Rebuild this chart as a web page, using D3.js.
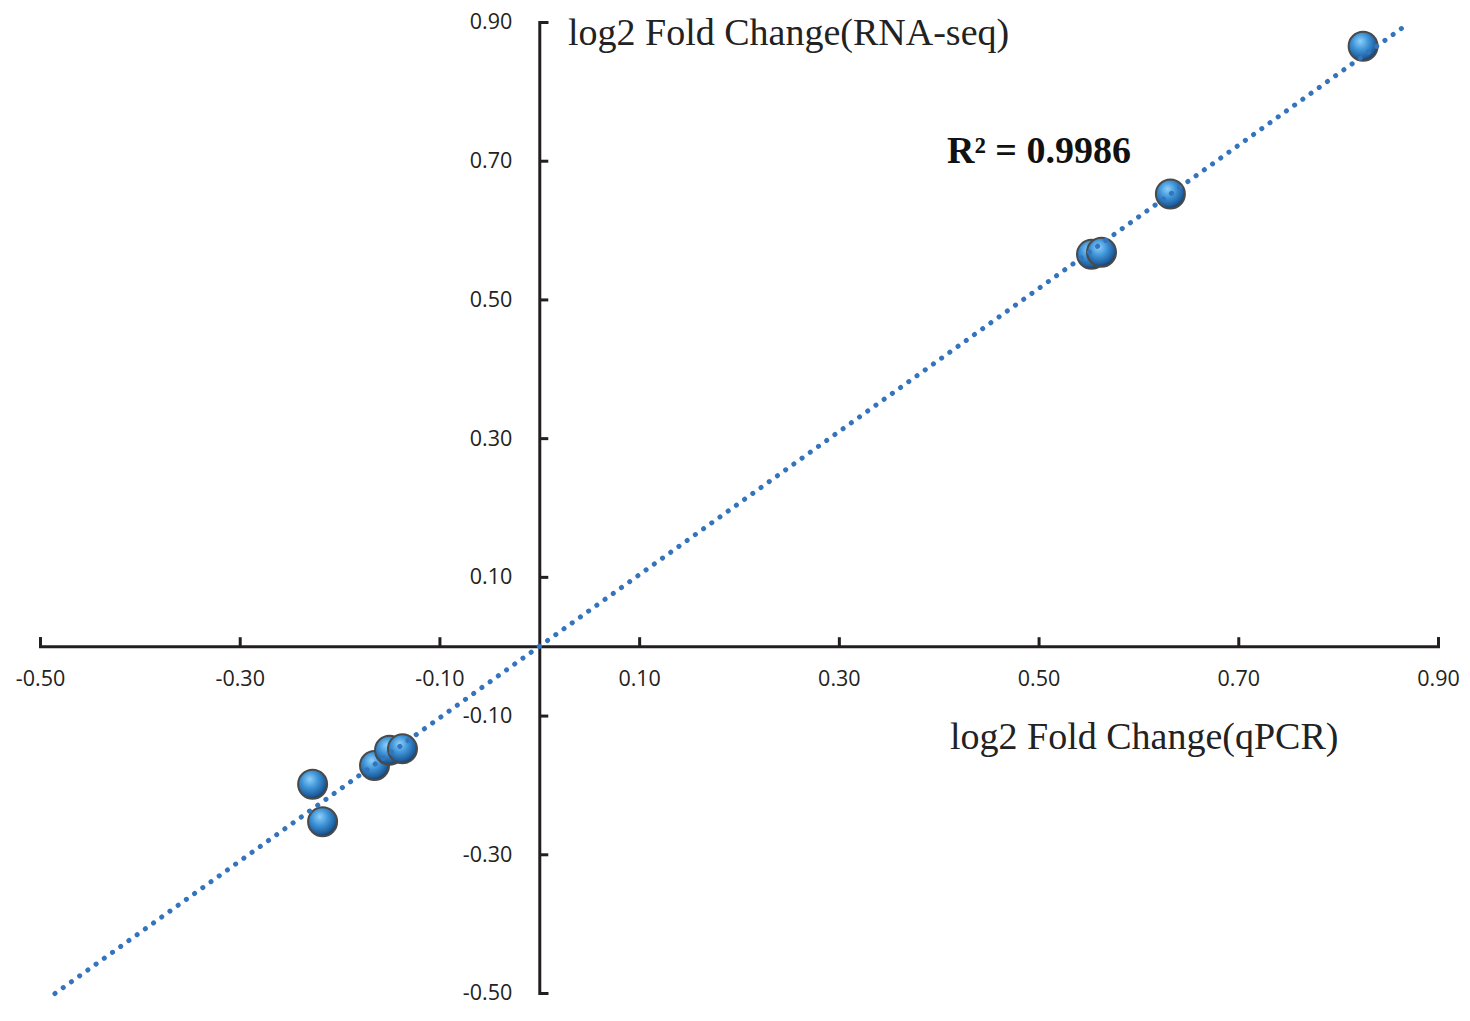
<!DOCTYPE html>
<html>
<head>
<meta charset="utf-8">
<script src="https://cdn.jsdelivr.net/npm/d3@7"></script>
<style>
  body { margin: 0; background: #fff; }
</style>
</head>
<body>
<div id="chart"></div>
<script>
// Data: qPCR (x) vs RNA-seq (y) log2 fold change
const qpcrValues = [0.825, 0.632, 0.553, 0.563, -0.227, -0.217, -0.165, -0.150, -0.137];
const rnaseqValues = [0.865, 0.652, 0.565, 0.568, -0.199, -0.253, -0.172, -0.150, -0.148];
const tickValues = [-0.5, -0.3, -0.1, 0.1, 0.3, 0.5, 0.7, 0.9];
const trendExtent = [-0.485, 0.868];
const r2Label = 'R² = 0.9986';
const xTitle = 'log2 Fold Change(qPCR)';
const yTitle = 'log2 Fold Change(RNA-seq)';

const W = 1470, H = 1021;
const axisColor = '#231f20';

const svg = d3.select('#chart')
    .append('svg')
    .attr('width', W)
    .attr('height', H);

// Scales
const xScale = d3.scaleLinear().domain([-0.5, 0.9]).range([40, 1438]);
const yScale = d3.scaleLinear().domain([-0.5, 0.9]).range([993, 22]);
const fmt = d => d.toFixed(2);

// Sphere gradient for the markers
const defs = svg.append('defs');
const grad = defs.append('radialGradient')
    .attr('id', 'ball')
    .attr('cx', '42%').attr('cy', '38%').attr('r', '62%')
    .attr('fx', '40%').attr('fy', '32%');
grad.append('stop').attr('offset', '0%').attr('stop-color', '#8fd0fa');
grad.append('stop').attr('offset', '45%').attr('stop-color', '#3f95d8');
grad.append('stop').attr('offset', '85%').attr('stop-color', '#1f5f9e');
grad.append('stop').attr('offset', '100%').attr('stop-color', '#1a3f66');

// X axis (ticks point up, labels below)
const xAxis = svg.append('g')
    .attr('transform', `translate(0, ${yScale(0)})`)
    .call(d3.axisBottom(xScale)
        .tickValues(tickValues)
        .tickFormat(fmt)
        .tickSizeInner(-9)
        .tickSizeOuter(-9)
        .tickPadding(25));

// Y axis (ticks point right, labels left)
const yAxis = svg.append('g')
    .attr('transform', `translate(${xScale(0)}, 0)`)
    .call(d3.axisLeft(yScale)
        .tickValues(tickValues)
        .tickFormat(fmt)
        .tickSizeInner(-9)
        .tickSizeOuter(-9)
        .tickPadding(27));

[xAxis, yAxis].forEach(ax => {
    ax.select('.domain').attr('stroke', axisColor).attr('stroke-width', 3);
    ax.selectAll('.tick line').attr('stroke', axisColor).attr('stroke-width', 3);
    ax.selectAll('.tick text')
        .attr('fill', '#222')
        .attr('font-family', '"Open Sans", sans-serif')
        .attr('font-size', 21.5);
});

// Points
const pts = qpcrValues.map((x, i) => ({ x: x, y: rnaseqValues[i] }));
svg.selectAll('circle.pt')
    .data(pts)
    .enter()
    .append('circle')
    .attr('class', 'pt')
    .attr('cx', d => xScale(d.x))
    .attr('cy', d => yScale(d.y))
    .attr('r', 14.5)
    .attr('fill', 'url(#ball)')
    .attr('stroke', '#4a4a4a')
    .attr('stroke-width', 2);

// Linear trendline (least squares through the points)
const mx = d3.mean(qpcrValues), my = d3.mean(rnaseqValues);
const slope = d3.sum(pts, d => (d.x - mx) * (d.y - my)) / d3.sum(pts, d => (d.x - mx) ** 2);
const intercept = my - slope * mx;
svg.append('line')
    .attr('x1', xScale(trendExtent[0]))
    .attr('y1', yScale(slope * trendExtent[0] + intercept))
    .attr('x2', xScale(trendExtent[1]))
    .attr('y2', yScale(slope * trendExtent[1] + intercept))
    .attr('stroke', '#3474bd')
    .attr('stroke-width', 5)
    .attr('stroke-linecap', 'round')
    .attr('stroke-dasharray', '0.1 10');

// Titles
svg.append('text')
    .attr('x', 568).attr('y', 45)
    .attr('font-family', '"Liberation Serif", serif')
    .attr('font-size', 38)
    .attr('fill', '#222')
    .text(yTitle);

svg.append('text')
    .attr('x', 950).attr('y', 749)
    .attr('font-family', '"Liberation Serif", serif')
    .attr('font-size', 38)
    .attr('fill', '#222')
    .text(xTitle);

svg.append('text')
    .attr('x', 947).attr('y', 163)
    .attr('font-family', '"Liberation Serif", serif')
    .attr('font-weight', 'bold')
    .attr('font-size', 38)
    .attr('fill', '#111')
    .text(r2Label);
</script>
</body>
</html>
